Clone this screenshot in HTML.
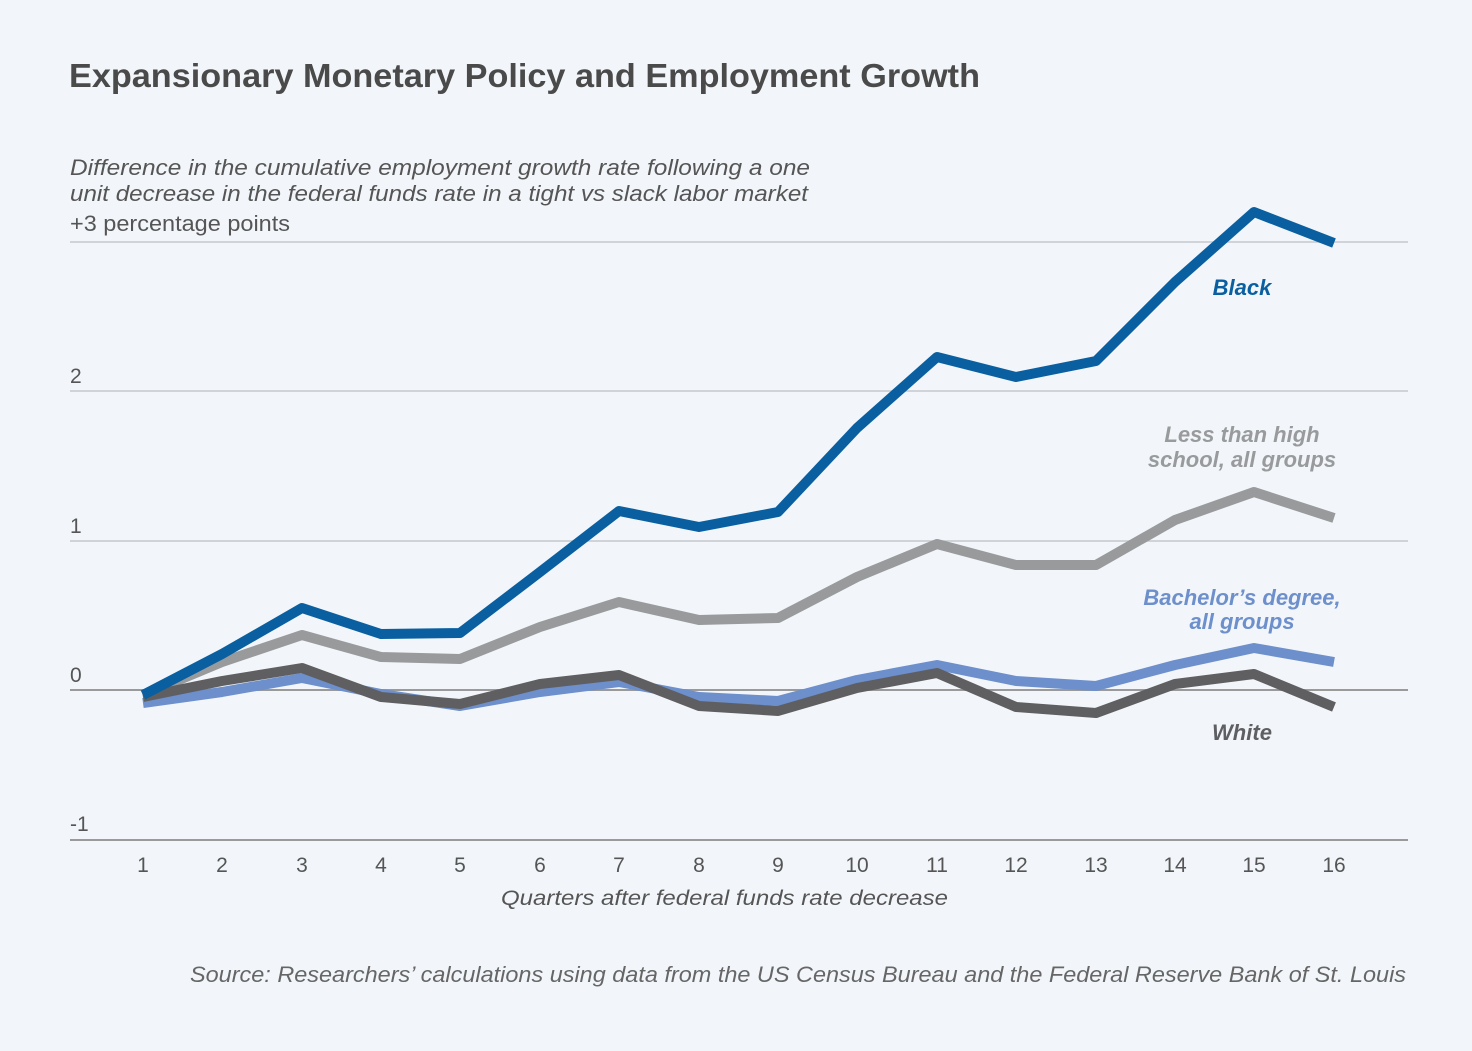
<!DOCTYPE html>
<html><head><meta charset="utf-8"><style>
html,body{margin:0;padding:0;background:#f2f6fa;}
svg{display:block;font-family:"Liberation Sans",sans-serif;}
</style></head><body>
<svg width="1472" height="1051" viewBox="0 0 1472 1051" xmlns="http://www.w3.org/2000/svg">
<rect width="1472" height="1051" fill="#f2f6fa"/>
<text x="69" y="87" font-size="33" font-weight="bold" fill="#4a4a4a" textLength="911" lengthAdjust="spacingAndGlyphs">Expansionary Monetary Policy and Employment Growth</text>
<text x="70" y="175" font-size="22" font-style="italic" fill="#555" textLength="740" lengthAdjust="spacingAndGlyphs">Difference in the cumulative employment growth rate following a one</text>
<text x="70" y="201" font-size="22" font-style="italic" fill="#555" textLength="738" lengthAdjust="spacingAndGlyphs">unit decrease in the federal funds rate in a tight vs slack labor market</text>
<text x="70" y="231" font-size="22" fill="#555" textLength="220" lengthAdjust="spacingAndGlyphs">+3 percentage points</text>
<g stroke="#c4c8cc" stroke-width="1.5">
<line x1="70" y1="242" x2="1408" y2="242"/>
<line x1="70" y1="391" x2="1408" y2="391"/>
<line x1="70" y1="541" x2="1408" y2="541"/>
</g>
<line x1="70" y1="690" x2="1408" y2="690" stroke="#9a9a9a" stroke-width="2"/>
<line x1="70" y1="840" x2="1408" y2="840" stroke="#9a9a9a" stroke-width="2"/>
<g font-size="21" fill="#555">
<text x="70" y="383">2</text>
<text x="70" y="533">1</text>
<text x="70" y="682">0</text>
<text x="70" y="831">-1</text>
</g>
<g font-size="21" fill="#555" text-anchor="middle">
<text x="143" y="872">1</text><text x="222" y="872">2</text><text x="302" y="872">3</text><text x="381" y="872">4</text>
<text x="460" y="872">5</text><text x="540" y="872">6</text><text x="619" y="872">7</text><text x="699" y="872">8</text>
<text x="778" y="872">9</text><text x="857" y="872">10</text><text x="937" y="872">11</text><text x="1016" y="872">12</text>
<text x="1096" y="872">13</text><text x="1175" y="872">14</text><text x="1254" y="872">15</text><text x="1334" y="872">16</text>
</g>
<text x="501" y="905" font-size="21" fill="#555" font-style="italic" textLength="447" lengthAdjust="spacingAndGlyphs">Quarters after federal funds rate decrease</text>
<g fill="none" stroke-width="10" stroke-linejoin="round" stroke-linecap="butt">
<polyline stroke="#999a9c" points="143,695 222,662 302,635 381,657 460,659 540,627 619,602 699,620 778,618 857,577 937,544 1016,565 1096,565 1175,520 1254,492 1334,518"/>
<polyline stroke="#6d8fcb" points="143,703 222,692 302,678 381,694 460,706 540,692 619,682 699,697 778,701 857,680 937,665 1016,681 1096,686 1175,665 1254,648 1334,662"/>
<polyline stroke="#5f5f61" points="143,697 222,681 302,668 381,697 460,704 540,684 619,675 699,706 778,711 857,688 937,673 1016,707 1096,713 1175,684 1254,674 1334,707"/>
<polyline stroke="#0a5fa0" points="143,695 222,654 302,608 381,634 460,633 540,572 619,511 699,527 778,512 857,428 937,357 1016,377 1096,361 1175,282 1254,212 1334,243"/>
</g>
<g font-size="22" font-weight="bold" font-style="italic" text-anchor="middle">
<text x="1242" y="295" fill="#0a5fa0">Black</text>
<text x="1242" y="442" fill="#999a9c">Less than high</text>
<text x="1242" y="467" fill="#999a9c">school, all groups</text>
<text x="1242" y="605" fill="#6d8fcb">Bachelor’s degree,</text>
<text x="1242" y="629" fill="#6d8fcb">all groups</text>
<text x="1242" y="740" fill="#5f5f61">White</text>
</g>
<text x="190" y="982" font-size="22" font-style="italic" fill="#666" textLength="1216" lengthAdjust="spacingAndGlyphs">Source: Researchers’ calculations using data from the US Census Bureau and the Federal Reserve Bank of St. Louis</text>
</svg>
</body></html>
